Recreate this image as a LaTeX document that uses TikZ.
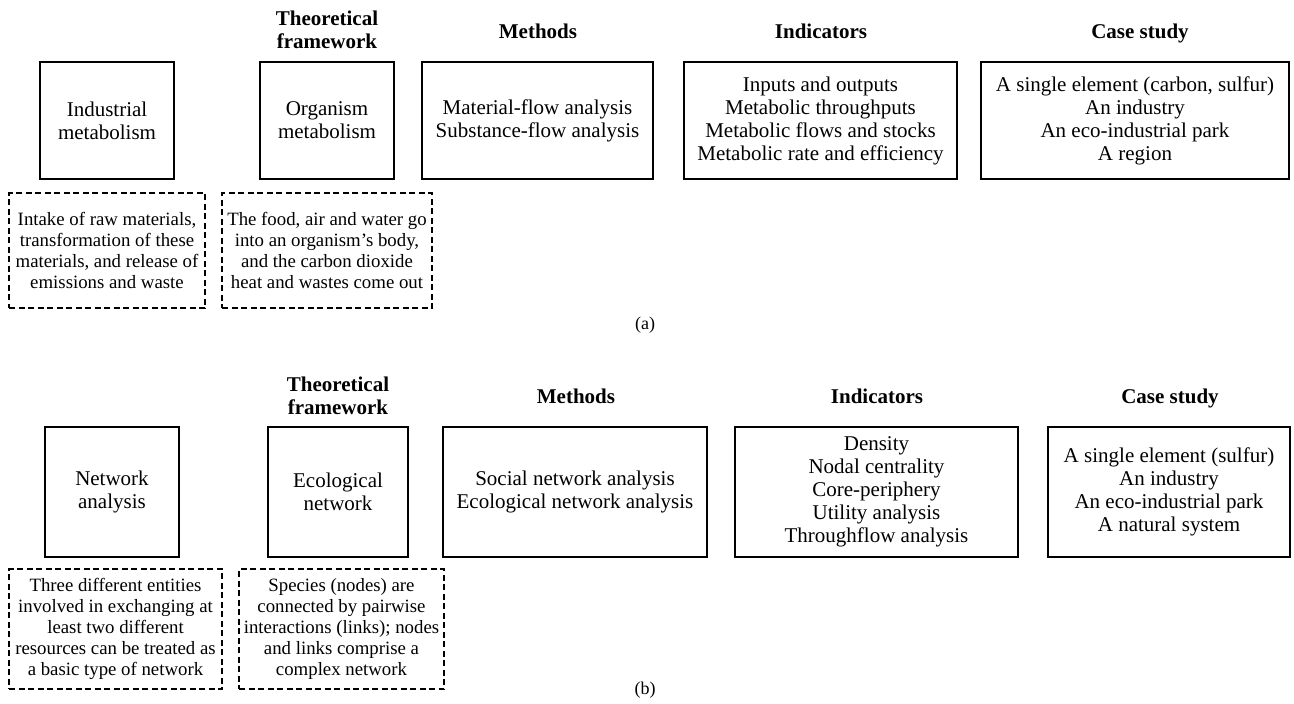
\documentclass[tikz,border=0pt]{standalone}
\usepackage{fontspec}
\setmainfont{Liberation Serif}
\begin{document}
\begin{tikzpicture}[x=1pt,y=-1pt,
  mainbox/.style={draw,line width=2pt,inner sep=0pt,align=center,font=\fontsize{21}{23}\selectfont},
  notebox/.style={draw,line width=1.3pt,dash pattern=on 6pt off 3.5pt,inner sep=0pt,align=center,font=\fontsize{18.8}{21}\selectfont},
  header/.style={inner sep=0pt,align=center,font=\fontsize{21}{23.5}\selectfont\bfseries},
  header1/.style={inner sep=0pt,anchor=base,font=\fontsize{21}{23.5}\selectfont\bfseries},
  caption/.style={inner sep=0pt,font=\fontsize{18}{21}\selectfont}]
\useasboundingbox (0,0) rectangle (1294,704);
% ---------- (a) ----------
\node[header] (ha2) at (327,30) {Theoretical\\framework};
\node[header1] (ha3) at (538,38) {Methods};
\node[header1] (ha4) at (821,38) {Indicators};
\node[header1] (ha5) at (1140,38) {Case study};
\node[mainbox,minimum width=134pt,minimum height=117pt] (a1) at (107,120.5) {Industrial\\metabolism};
\node[mainbox,minimum width=134pt,minimum height=117pt] (a2) at (327,120.5) {Organism\\metabolism};
\node[mainbox,minimum width=231pt,minimum height=117pt] (a3) at (537.5,120.5) {Material-flow analysis\\Substance-flow analysis};
\node[mainbox,minimum width=273pt,minimum height=117pt] (a4) at (820.5,120.5) {Inputs and outputs\\Metabolic throughputs\\Metabolic flows and stocks\\Metabolic rate and efficiency};
\node[mainbox,minimum width=308pt,minimum height=117pt] (a5) at (1135,120.5) {A single element (carbon, sulfur)\\An industry\\An eco-industrial park\\A region};
\node[notebox,minimum width=196pt,minimum height=115pt] (ad1) at (107,250.5) {Intake of raw materials,\\transformation of these\\materials, and release of\\emissions and waste};
\node[notebox,minimum width=210pt,minimum height=115pt] (ad2) at (327,250.5) {The food, air and water go\\into an organism’s body,\\and the carbon dioxide\\heat and wastes come out};
\node[caption] (capa) at (645,325) {(a)};
% ---------- (b) ----------
\node[header] (hb2) at (338,396) {Theoretical\\framework};
\node[header1] (hb3) at (576,403) {Methods};
\node[header1] (hb4) at (877,403) {Indicators};
\node[header1] (hb5) at (1170,403) {Case study};
\node[mainbox,minimum width=134pt,minimum height=130pt] (b1) at (112,492) {Network\\analysis};
\node[mainbox,minimum width=140pt,minimum height=130pt] (b2) at (338,492) {Ecological\\network};
\node[mainbox,minimum width=264pt,minimum height=130pt] (b3) at (575,492) {Social network analysis\\Ecological network analysis};
\node[mainbox,minimum width=283pt,minimum height=130pt] (b4) at (876.5,492) {Density\\Nodal centrality\\Core-periphery\\Utility analysis\\Throughflow analysis};
\node[mainbox,minimum width=242pt,minimum height=130pt] (b5) at (1169,492) {A single element (sulfur)\\An industry\\An eco-industrial park\\A natural system};
\node[notebox,minimum width=213pt,minimum height=120pt] (bd1) at (115.5,629) {Three different entities\\involved in exchanging at\\least two different\\resources can be treated as\\a basic type of network};
\node[notebox,minimum width=205pt,minimum height=120pt] (bd2) at (341.5,629) {Species (nodes) are\\connected by pairwise\\interactions (links); nodes\\and links comprise a\\complex network};
\node[caption] (capb) at (645,690) {(b)};
\end{tikzpicture}
\end{document}
